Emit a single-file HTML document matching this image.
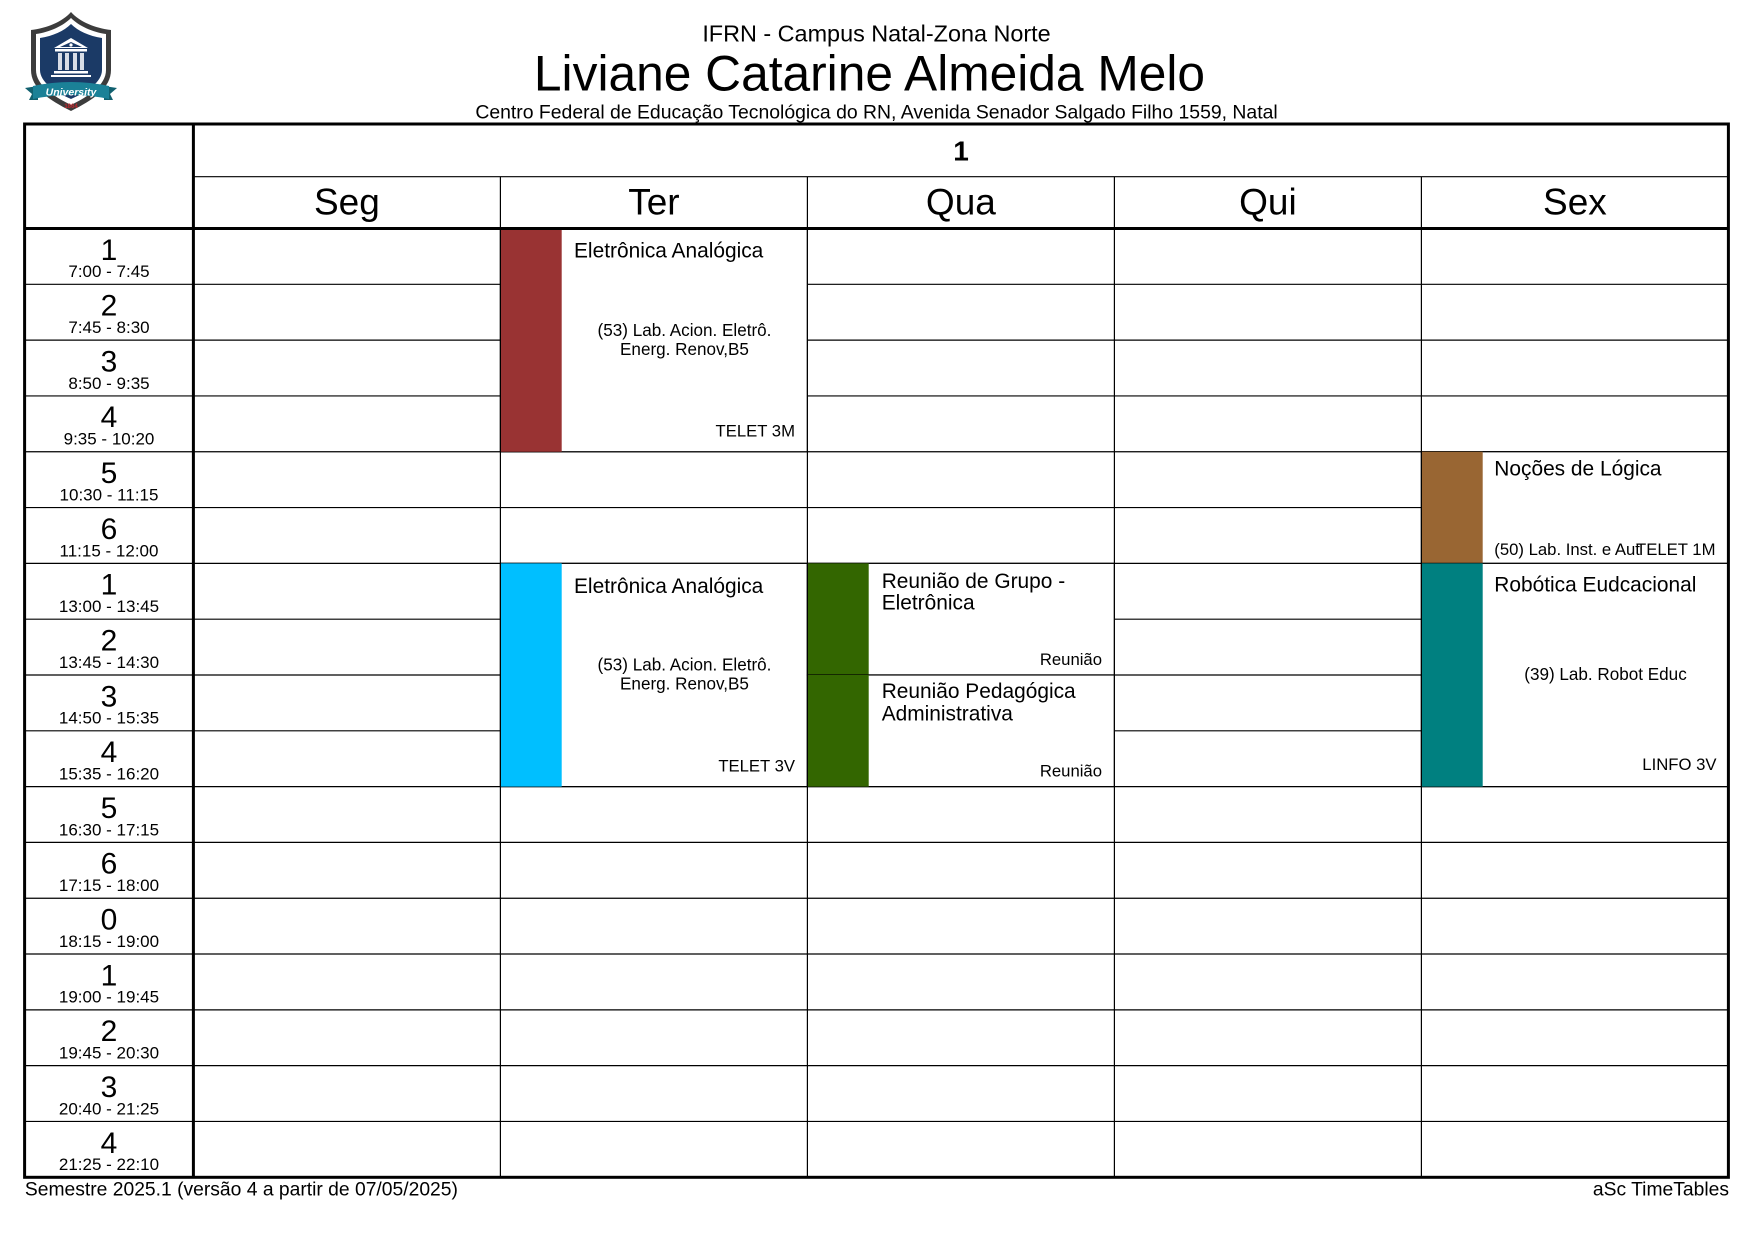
<!DOCTYPE html>
<html>
<head>
<meta charset="utf-8">
<style>
  html, body { margin:0; padding:0; background:#fff; }
  body { width:1755px; height:1241px; overflow:hidden; }
  svg { display:block; }
  text { font-family: "Liberation Sans", Arial, sans-serif; fill:#000; }
  .num { font-size:30px; text-anchor:middle; }
  .tm { font-size:17px; text-anchor:middle; }
  .day { font-size:37px; text-anchor:middle; }
  .ttl { font-size:20.9px; }
  .sm { font-size:16.7px; }
  .mid { font-size:17.1px; text-anchor:middle; }
  .rt { font-size:16.7px; text-anchor:end; }
  .thin { stroke:#000; stroke-width:1.2; }
  .blk { fill:#fff; stroke:#000; stroke-width:1.2; }
  .thick { stroke:#000; stroke-width:3; fill:none; }
</style>
</head>
<body>
<svg width="1755" height="1241" viewBox="0 0 1755 1241" xmlns="http://www.w3.org/2000/svg">
  <rect x="0" y="0" width="1755" height="1241" fill="#fff"/>

  <!-- Logo -->
  <g>
    <path d="M71,12 C80,22 95,28 111,30 L111,70 C111,88 93,100 71,111 C49,100 31,88 31,70 L31,30 C47,28 62,22 71,12 Z" fill="#3c3c3c"/>
    <path d="M71,18 C79,26 92,32 106,34 L106,70 C106,85 89,96 71,105 C53,96 36,85 36,70 L36,34 C50,32 63,26 71,18 Z" fill="#ffffff"/>
    <path d="M71,24 C78,31 89,36 102,38 L102,70 C102,82 87,92 71,99 C55,92 40,82 40,70 L40,38 C53,36 64,31 71,24 Z" fill="#1b3a66"/>
    <!-- building -->
    <polygon points="71,38 88,48 54,48" fill="#fff"/>
    <polygon points="71,42 82,47 60,47" fill="#1b3a66"/>
    <circle cx="71" cy="45" r="1.6" fill="#fff"/>
    <rect x="55" y="49" width="32" height="2.5" fill="#fff"/>
    <rect x="58" y="53" width="4" height="17" fill="#d8dde6"/>
    <rect x="65" y="53" width="4" height="17" fill="#d8dde6"/>
    <rect x="73" y="53" width="4" height="17" fill="#d8dde6"/>
    <rect x="80" y="53" width="4" height="17" fill="#d8dde6"/>
    <rect x="54" y="71" width="34" height="2.5" fill="#fff"/>
    <rect x="51" y="75" width="40" height="2" fill="#fff"/>
    <!-- ribbon -->
    <polygon points="25,88 38,86 38,100 29,100 32,94" fill="#11606f"/>
    <polygon points="117,88 104,86 104,100 113,100 110,94" fill="#11606f"/>
    <path d="M33,86 Q71,78 109,86 L109,99 Q71,91 33,99 Z" fill="#1b8197"/>
    <text x="71" y="95.5" font-size="10.5" font-weight="bold" font-style="italic" text-anchor="middle" style="fill:#fff">University</text>
    <text x="71" y="108" font-size="6" font-weight="bold" text-anchor="middle" style="fill:#c0272d">1864</text>
  </g>

  <!-- Header texts -->
  <text x="876.5" y="41.7" font-size="23.4" text-anchor="middle">IFRN - Campus Natal-Zona Norte</text>
  <text x="869.5" y="90.7" font-size="49.7" text-anchor="middle">Liviane Catarine Almeida Melo</text>
  <text x="876.5" y="118.3" font-size="19.4" text-anchor="middle">Centro Federal de Educação Tecnológica do RN, Avenida Senador Salgado Filho 1559, Natal</text>

  <!-- Header row lines -->
  <line class="thin" x1="193.4" y1="176.7" x2="1728.4" y2="176.7"/>
  <line class="thin" x1="500.4" y1="176.7" x2="500.4" y2="228.5"/>
  <line class="thin" x1="807.4" y1="176.7" x2="807.4" y2="228.5"/>
  <line class="thin" x1="1114.4" y1="176.7" x2="1114.4" y2="228.5"/>
  <line class="thin" x1="1421.4" y1="176.7" x2="1421.4" y2="228.5"/>

  <text x="961" y="160.7" font-size="28" font-weight="bold" text-anchor="middle">1</text>
  <text class="day" x="346.9" y="214.5">Seg</text>
  <text class="day" x="653.9" y="214.5">Ter</text>
  <text class="day" x="960.9" y="214.5">Qua</text>
  <text class="day" x="1267.9" y="214.5">Qui</text>
  <text class="day" x="1574.9" y="214.5">Sex</text>

  <!-- Row lines -->
  <g class="thin">
    <line x1="24.6" y1="284.31" x2="1728.4" y2="284.31"/>
    <line x1="24.6" y1="340.12" x2="1728.4" y2="340.12"/>
    <line x1="24.6" y1="395.93" x2="1728.4" y2="395.93"/>
    <line x1="24.6" y1="451.74" x2="1728.4" y2="451.74"/>
    <line x1="24.6" y1="507.55" x2="1728.4" y2="507.55"/>
    <line x1="24.6" y1="563.36" x2="1728.4" y2="563.36"/>
    <line x1="24.6" y1="619.17" x2="1728.4" y2="619.17"/>
    <line x1="24.6" y1="674.98" x2="1728.4" y2="674.98"/>
    <line x1="24.6" y1="730.79" x2="1728.4" y2="730.79"/>
    <line x1="24.6" y1="786.6" x2="1728.4" y2="786.6"/>
    <line x1="24.6" y1="842.41" x2="1728.4" y2="842.41"/>
    <line x1="24.6" y1="898.22" x2="1728.4" y2="898.22"/>
    <line x1="24.6" y1="954.03" x2="1728.4" y2="954.03"/>
    <line x1="24.6" y1="1009.84" x2="1728.4" y2="1009.84"/>
    <line x1="24.6" y1="1065.65" x2="1728.4" y2="1065.65"/>
    <line x1="24.6" y1="1121.46" x2="1728.4" y2="1121.46"/>
  </g>

  <!-- Event blocks -->
  <!-- Ter morning -->
  <rect class="blk" x="500.4" y="228.5" width="307" height="223.24"/>
  <rect x="500.4" y="228.5" width="61.3" height="223.24" fill="#993333"/>
  <text class="ttl" x="574" y="257.7">Eletrônica Analógica</text>
  <text class="mid" x="684.5" y="336">(53) Lab. Acion. Eletrô.</text>
  <text class="mid" x="684.5" y="354.8">Energ. Renov,B5</text>
  <text class="rt" x="795" y="436.7">TELET 3M</text>

  <!-- Sex rows 5-6 -->
  <rect class="blk" x="1421.4" y="451.74" width="307" height="111.62"/>
  <rect x="1421.4" y="451.74" width="61.3" height="111.62" fill="#996633"/>
  <text class="ttl" x="1494.3" y="475.7">Noções de Lógica</text>
  <text class="sm" x="1494.3" y="555">(50) Lab. Inst. e Aut</text>
  <text class="rt" x="1715.5" y="555">TELET 1M</text>

  <!-- Ter afternoon -->
  <rect class="blk" x="500.4" y="563.36" width="307" height="223.24"/>
  <rect x="500.4" y="563.36" width="61.3" height="223.24" fill="#00BFFF"/>
  <text class="ttl" x="574" y="592.9">Eletrônica Analógica</text>
  <text class="mid" x="684.5" y="670.6">(53) Lab. Acion. Eletrô.</text>
  <text class="mid" x="684.5" y="689.6">Energ. Renov,B5</text>
  <text class="rt" x="795" y="771.3">TELET 3V</text>

  <!-- Qua afternoon 1-2 -->
  <rect class="blk" x="807.4" y="563.36" width="307" height="111.62"/>
  <rect x="807.4" y="563.36" width="61.3" height="111.62" fill="#336600"/>
  <text class="ttl" x="881.7" y="587.8">Reunião de Grupo -</text>
  <text class="ttl" x="881.7" y="609.6">Eletrônica</text>
  <text class="rt" x="1102" y="665">Reunião</text>

  <!-- Qua afternoon 3-4 -->
  <rect class="blk" x="807.4" y="674.98" width="307" height="111.62"/>
  <rect x="807.4" y="674.98" width="61.3" height="111.62" fill="#336600"/>
  <text class="ttl" x="881.7" y="698.2">Reunião Pedagógica</text>
  <text class="ttl" x="881.7" y="720.4">Administrativa</text>
  <text class="rt" x="1102" y="776.7">Reunião</text>

  <!-- Sex afternoon -->
  <rect class="blk" x="1421.4" y="563.36" width="307" height="223.24"/>
  <rect x="1421.4" y="563.36" width="61.3" height="223.24" fill="#008080"/>
  <text class="ttl" x="1494.3" y="591.7">Robótica Eudcacional</text>
  <text class="mid" x="1605.5" y="680">(39) Lab. Robot Educ</text>
  <text class="rt" x="1716.5" y="770">LINFO 3V</text>

  <!-- Column lines -->
  <g class="thin">
    <line x1="500.4" y1="228.5" x2="500.4" y2="1177.3"/>
    <line x1="807.4" y1="228.5" x2="807.4" y2="1177.3"/>
    <line x1="1114.4" y1="228.5" x2="1114.4" y2="1177.3"/>
    <line x1="1421.4" y1="228.5" x2="1421.4" y2="1177.3"/>
  </g>

  <!-- Time column labels -->
  <g>
    <text class="num" x="109" y="259.8">1</text><text class="tm" x="109" y="277.2">7:00 - 7:45</text>
    <text class="num" x="109" y="315.6">2</text><text class="tm" x="109" y="333.0">7:45 - 8:30</text>
    <text class="num" x="109" y="371.4">3</text><text class="tm" x="109" y="388.8">8:50 - 9:35</text>
    <text class="num" x="109" y="427.2">4</text><text class="tm" x="109" y="444.6">9:35 - 10:20</text>
    <text class="num" x="109" y="483.0">5</text><text class="tm" x="109" y="500.4">10:30 - 11:15</text>
    <text class="num" x="109" y="538.9">6</text><text class="tm" x="109" y="556.3">11:15 - 12:00</text>
    <text class="num" x="109" y="594.7">1</text><text class="tm" x="109" y="612.1">13:00 - 13:45</text>
    <text class="num" x="109" y="650.5">2</text><text class="tm" x="109" y="667.9">13:45 - 14:30</text>
    <text class="num" x="109" y="706.3">3</text><text class="tm" x="109" y="723.7">14:50 - 15:35</text>
    <text class="num" x="109" y="762.1">4</text><text class="tm" x="109" y="779.5">15:35 - 16:20</text>
    <text class="num" x="109" y="817.9">5</text><text class="tm" x="109" y="835.3">16:30 - 17:15</text>
    <text class="num" x="109" y="873.7">6</text><text class="tm" x="109" y="891.1">17:15 - 18:00</text>
    <text class="num" x="109" y="929.5">0</text><text class="tm" x="109" y="946.9">18:15 - 19:00</text>
    <text class="num" x="109" y="985.3">1</text><text class="tm" x="109" y="1002.7">19:00 - 19:45</text>
    <text class="num" x="109" y="1041.1">2</text><text class="tm" x="109" y="1058.5">19:45 - 20:30</text>
    <text class="num" x="109" y="1097.0">3</text><text class="tm" x="109" y="1114.4">20:40 - 21:25</text>
    <text class="num" x="109" y="1152.8">4</text><text class="tm" x="109" y="1170.2">21:25 - 22:10</text>
  </g>

  <!-- Thick lines -->
  <rect class="thick" x="24.6" y="124" width="1703.8" height="1053.3"/>
  <line class="thick" x1="193.4" y1="124" x2="193.4" y2="1177.3"/>
  <line class="thick" x1="24.6" y1="228.5" x2="1728.4" y2="228.5"/>

  <!-- Footer -->
  <text x="24.9" y="1195.7" font-size="19.3">Semestre 2025.1 (versão 4 a partir de 07/05/2025)</text>
  <text x="1729" y="1195.7" font-size="19.3" text-anchor="end">aSc TimeTables</text>
</svg>
</body>
</html>
